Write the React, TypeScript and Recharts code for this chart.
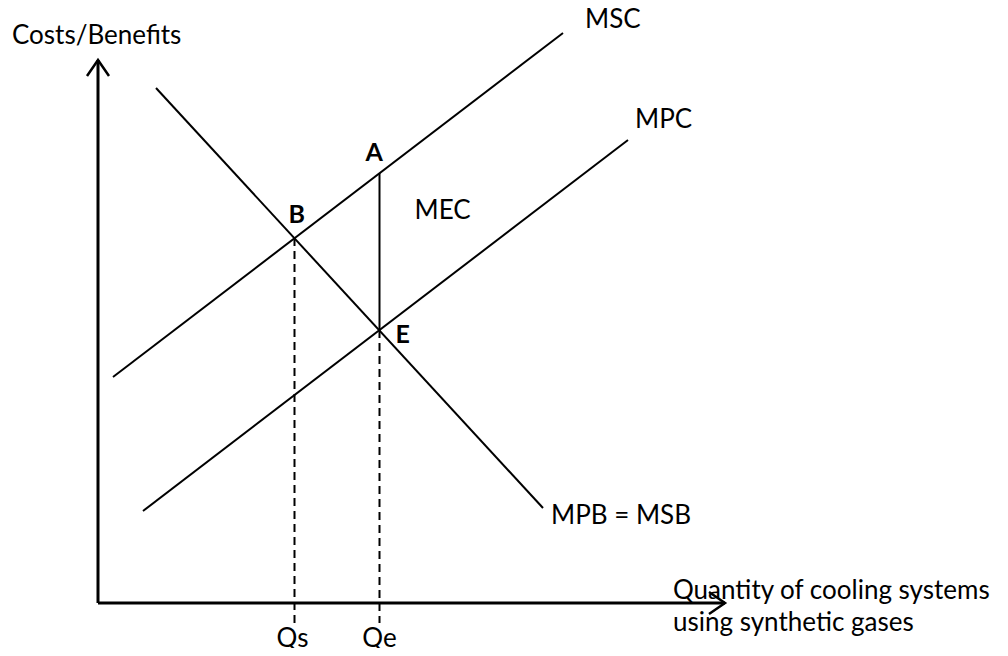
import { ComposedChart, Line, XAxis, YAxis, ReferenceLine, ReferenceDot } from 'recharts';

// quantity (q) and cost/benefit (v) in chart units
const mscLine = [{ q: 1.5, v: 22.6 }, { q: 46.5, v: 57.0 }];
const mpcLine = [{ q: 4.5, v: 9.2 }, { q: 53.0, v: 46.3 }];
const mpbLine = [{ q: 5.8, v: 51.5 }, { q: 44.5, v: 9.5 }];

const points = [
    { name: 'A', q: 28.15, v: 43.0 },
    { name: 'B', q: 19.65, v: 36.5 },
    { name: 'E', q: 28.15, v: 27.3 },
];

const quantities = [
    { name: 'Qs', q: 19.65, v: 36.5 },
    { name: 'Qe', q: 28.15, v: 27.3 },
];

const curveNames = ['MSC', 'MPC', 'MPB = MSB'];
const axisTitles = ['Costs/Benefits', 'Quantity of cooling systems', 'using synthetic gases'];
const axisEnds = { q: 62.7, v: 54.3 };

const FONT = "Lato, 'Open Sans', sans-serif";
const INK = '#000';

const textAt = (text: string, dx: number, dy: number, opts: any = {}) => (p: any) => (
    <text
        x={p.cx + dx}
        y={p.cy + dy}
        fontFamily={FONT}
        fontSize={opts.size ?? 26}
        fontWeight={opts.bold ? 700 : 400}
        textAnchor={opts.anchor ?? 'start'}
        fill={INK}
    >
        {text}
    </text>
);

const arrowUp = (p: any) => (
    <g>
        <polyline points={`${p.cx - 11},${p.cy + 16} ${p.cx},${p.cy} ${p.cx + 11},${p.cy + 16}`} fill="none" stroke={INK} strokeWidth={2.5} />
        {textAt(axisTitles[0], -86, -16)(p)}
    </g>
);

const arrowRight = (p: any) => (
    <g>
        <polyline points={`${p.cx - 16},${p.cy - 11} ${p.cx},${p.cy} ${p.cx - 16},${p.cy + 11}`} fill="none" stroke={INK} strokeWidth={2.5} />
        {textAt(axisTitles[1], -52, -4)(p)}
        {textAt(axisTitles[2], -52, 28)(p)}
    </g>
);

const pointOffsets: Record<string, [number, number]> = { A: [-14, -12], B: [-6, -15], E: [16, 13] };
const qOffsets: Record<string, number> = { Qs: -2, Qe: 0 };

export default function App() {
    const a = points[0];
    const e = points[2];
    return (
        // cancel the body margin so the svg covers the whole window
        <div style={{ margin: -8, width: 1008, height: 656 }}>
            <ComposedChart width={1008} height={656} margin={{ top: 23, right: 270, bottom: 53, left: 98 }}>
                <XAxis type="number" dataKey="q" domain={[0, 64]} hide />
                <YAxis type="number" dataKey="v" domain={[0, 58]} hide />

                {/* axes */}
                <ReferenceLine segment={[{ x: 0, y: 0 }, { x: axisEnds.q, y: 0 }]} stroke={INK} strokeWidth={3} />
                <ReferenceLine segment={[{ x: 0, y: 0 }, { x: 0, y: axisEnds.v }]} stroke={INK} strokeWidth={3} />
                <ReferenceDot x={0} y={axisEnds.v} r={0} shape={arrowUp} />
                <ReferenceDot x={axisEnds.q} y={0} r={0} shape={arrowRight} />

                {/* dashed drops to the quantity axis */}
                {quantities.map((d) => (
                    <ReferenceLine
                        key={d.name}
                        segment={[{ x: d.q, y: d.v }, { x: d.q, y: -2 }]}
                        stroke={INK}
                        strokeWidth={2}
                        strokeDasharray="8 5"
                        ifOverflow="visible"
                    />
                ))}
                {quantities.map((d) => (
                    <ReferenceDot key={d.name} x={d.q} y={0} r={0} shape={textAt(d.name, qOffsets[d.name], 44, { anchor: 'middle' })} />
                ))}

                {/* marginal external cost A-E */}
                <ReferenceLine segment={[{ x: a.q, y: a.v }, { x: e.q, y: e.v }]} stroke={INK} strokeWidth={2} />
                <ReferenceDot x={a.q} y={(a.v + e.v) / 2} r={0} shape={textAt('MEC', 35, -33)} />

                <Line data={mscLine} dataKey="v" type="linear" stroke={INK} strokeWidth={2} dot={false} isAnimationActive={false} />
                <Line data={mpcLine} dataKey="v" type="linear" stroke={INK} strokeWidth={2} dot={false} isAnimationActive={false} />
                <Line data={mpbLine} dataKey="v" type="linear" stroke={INK} strokeWidth={2} dot={false} isAnimationActive={false} />

                <ReferenceDot x={mscLine[1].q} y={mscLine[1].v} r={0} shape={textAt(curveNames[0], 22, -5)} />
                <ReferenceDot x={mpcLine[1].q} y={mpcLine[1].v} r={0} shape={textAt(curveNames[1], 7, -12)} />
                <ReferenceDot x={mpbLine[1].q} y={mpbLine[1].v} r={0} shape={textAt(curveNames[2], 8, 16)} />

                {points.map((d) => (
                    <ReferenceDot
                        key={d.name}
                        x={d.q}
                        y={d.v}
                        r={0}
                        shape={textAt(d.name, pointOffsets[d.name][0], pointOffsets[d.name][1], { bold: true, size: 25 })}
                    />
                ))}
            </ComposedChart>
        </div>
    );
}
